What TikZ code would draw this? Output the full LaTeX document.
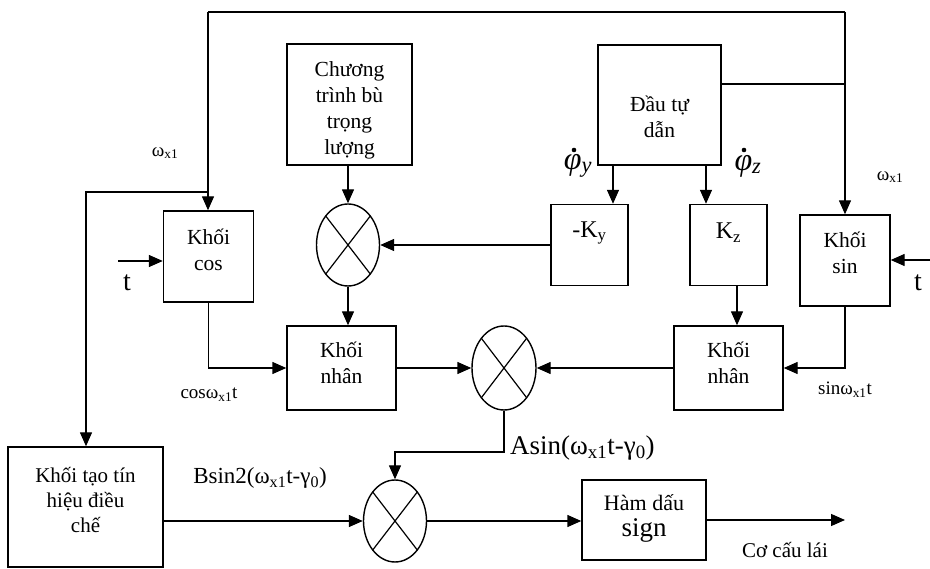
\documentclass[tikz,border=0pt]{standalone}
\usepackage{fontspec}
\setmainfont{Liberation Serif}
\usetikzlibrary{arrows.meta,shapes.geometric}
\tikzset{
  box/.style={draw,line width=1.4pt,inner sep=0pt,rectangle},
  mult/.style={draw,line width=1.4pt,ellipse,inner sep=0pt,minimum width=63pt,minimum height=82pt,
    path picture={\draw[line width=1.2pt] (path picture bounding box.north west)--(path picture bounding box.south east)
      (path picture bounding box.north east)--(path picture bounding box.south west);}},
  ln/.style={line width=1.4pt},
  arr/.style={line width=1.4pt,-{Triangle[length=14pt,width=12pt]}},
  btxt/.style={align=center,font=\fontsize{21.5}{26}\selectfont,inner sep=0pt},
  small/.style={font=\fontsize{19}{22}\selectfont,inner sep=0pt},
  phi/.style={inner sep=0pt,font=\fontsize{32}{34}\selectfont\itshape},
}
\begin{document}
\begin{tikzpicture}[x=1pt,y=-1pt]
\useasboundingbox (0,0) rectangle (930,569);
% boxes
\node[box,minimum width=125pt,minimum height=121pt] (chuong) at (349.5,104.5) {};
\node[btxt] (chuongt) at (349.5,110) {Chương\\trình bù\\trọng\\lượng};
\node[box,minimum width=123pt,minimum height=120pt] (dau) at (659.5,105) {};
\node[btxt] (daut) at (659.5,117) {Đầu tự\\dẫn};
\node[box,minimum width=90pt,minimum height=91pt] (cosb) at (208.5,256.5) {};
\node[btxt] (cosbt) at (208.5,250) {Khối\\cos};
\node[box,minimum width=90pt,minimum height=91pt] (sinb) at (845,260.5) {};
\node[btxt] (sinbt) at (845,253) {Khối\\sin};
\node[box,minimum width=77pt,minimum height=81pt] (ky) at (589.5,245) {};
\node[btxt,font=\fontsize{24}{26}\selectfont] (kyt) at (589.5,233) {-K\textsubscript{y}};
\node[box,minimum width=77pt,minimum height=81pt] (kz) at (728.5,245) {};
\node[btxt,font=\fontsize{24}{26}\selectfont] (kzt) at (728.5,233) {K\textsubscript{z}};
\node[box,minimum width=109pt,minimum height=84pt] (nhan1) at (341.5,368) {};
\node[btxt] (nhan1t) at (341.5,363) {Khối\\nhân};
\node[box,minimum width=109pt,minimum height=84pt] (nhan2) at (728.5,368) {};
\node[btxt] (nhan2t) at (728.5,363) {Khối\\nhân};
\node[box,minimum width=155pt,minimum height=120pt] (tao) at (85.5,507) {};
\node[btxt,font=\fontsize{21}{25}\selectfont] (taot) at (85.5,500) {Khối tạo tín\\hiệu điều\\chế};
\node[box,minimum width=124pt,minimum height=80pt] (ham) at (644,520) {};
\node[btxt,font=\fontsize{22}{26}\selectfont] (hamt) at (644,518) {Hàm dấu\\{\fontsize{27}{30}\selectfont sign}};
% multipliers
\node[mult] (m1) at (348,245) {};
\node[mult,minimum width=64pt,minimum height=84pt] (m2) at (504,368) {};
\node[mult] (m3) at (395,521) {};
% coordinates
\coordinate (tl) at (208,12);
\coordinate (tr) at (845,12);
\coordinate (j1) at (845,84);
\coordinate (j2) at (208,192);
\coordinate (j3) at (86,192);
\coordinate (p1) at (613,0);
\coordinate (p2) at (706,0);
\coordinate (p3) at (737,0);
\coordinate (j4) at (0,452);
\coordinate (out) at (845,520);
\coordinate (tin1) at (118,261);
\coordinate (tin2) at (930,260);
% connectors
\draw[ln] (tl) -- (tr);
\draw[arr] (tl) -- (tl |- cosb.north);
\draw[arr] (tr) -- (tr |- sinb.north);
\draw[ln] (j1 -| dau.east) -- (j1);
\draw[arr] (j2) -- (j3) -- (j3 |- tao.north);
\draw[arr] (dau.south -| p1) -- (ky.north -| p1);
\draw[arr] (dau.south -| p2) -- (kz.north -| p2);
\draw[arr] (ky.west) -- (m1.east);
\draw[arr] (chuong.south -| m1.north) -- (m1.north);
\draw[arr] (m1.south) -- (m1.south |- nhan1.north);
\draw[arr] (cosb.south) |- (nhan1.west);
\draw[arr] (nhan1.east) -- (m2.west);
\draw[arr] (kz.south -| p3) -- (nhan2.north -| p3);
\draw[arr] (sinb.south) |- (nhan2.east);
\draw[arr] (nhan2.west) -- (m2.east);
\draw[arr] (m2.south) -- (m2.south |- j4) -| (m3.north);
\draw[arr] (m3.west -| tao.east) -- (m3.west);
\draw[arr] (m3.east) -- (m3.east -| ham.west);
\draw[arr] (ham.east |- out) -- (out);
\draw[arr] (tin1) -- (tin1 -| cosb.west);
\draw[arr] (tin2) -- (tin2 -| sinb.east);
% labels
\node[small] (w1) at (165,153) {ω\textsubscript{x1}};
\node[small] (w2) at (890,177) {ω\textsubscript{x1}};
\node[inner sep=0pt,font=\fontsize{28}{30}\selectfont] (t1) at (127,283) {t};
\node[inner sep=0pt,font=\fontsize{28}{30}\selectfont] (t2) at (918,283) {t};
\node[phi] (phy) at (578,166) {φ\textsubscript{y}};
\node[phi] (phz) at (748,166) {φ\textsubscript{z}};
\fill (574,150) circle (2.3pt);
\fill (744,150) circle (2.3pt);
\node[small] (cl) at (209,395) {cosω\textsubscript{x1}t};
\node[small] (sl) at (845,390) {sinω\textsubscript{x1}t};
\node[inner sep=0pt,font=\fontsize{23}{26}\selectfont] (bl) at (260,478) {Bsin2(ω\textsubscript{x1}t-γ\textsubscript{0})};
\node[inner sep=0pt,anchor=west,font=\fontsize{27}{30}\selectfont] (al) at (510,448) {Asin(ω\textsubscript{x1}t-γ\textsubscript{0})};
\node[inner sep=0pt,font=\fontsize{21}{24}\selectfont] (co) at (785,550) {Cơ cấu lái};
\end{tikzpicture}
\end{document}
